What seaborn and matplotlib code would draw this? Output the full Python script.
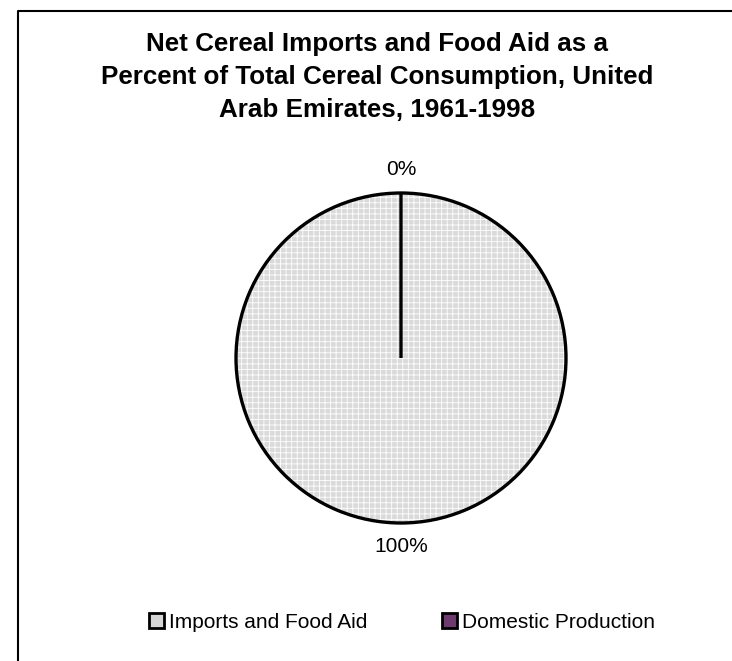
import numpy as np
import pandas as pd
import seaborn as sns
import matplotlib.pyplot as plt
from matplotlib.patches import Patch
from matplotlib.lines import Line2D

sns.set_theme(style="white")
plt.rcParams['font.family'] = ['Liberation Sans', 'DejaVu Sans']
plt.rcParams['text.color'] = 'black'
plt.rcParams['hatch.linewidth'] = 0.6

# data
categories = ['Imports and Food Aid', 'Domestic Production']
shares = [100, 0]
pct_labels = ['100%', '0%']
colors = ['#dadada', '#6e3b6f']

W, H = 732, 661
fig = plt.figure(figsize=(W / 100, H / 100), dpi=100)
fig.patch.set_facecolor('white')

# pie axis: center (401, 358), radius 165 px
r = 165
lim = 1.5
cx, cy = 401, 358
side = 2 * lim * r
ax = fig.add_axes([(cx - side / 2) / W, (H - cy - side / 2) / H, side / W, side / H])

# hatched fill
ax.pie(shares, colors=colors, startangle=90, counterclock=False,
       wedgeprops=dict(linewidth=0, edgecolor='white', hatch='+++'))
# outlines and labels
wedges, texts = ax.pie(shares, labels=pct_labels, labeldistance=1.14, startangle=90,
                       counterclock=False, colors=['none', 'none'],
                       wedgeprops=dict(linewidth=2.4, edgecolor='black', fill=False),
                       textprops=dict(fontsize=15, color='black'))
for t in texts:
    t.set_horizontalalignment('center')
ax.set_xlim(-lim, lim)
ax.set_ylim(-lim, lim)
ax.set_aspect('equal')
ax.axis('off')

# title
fig.text(377 / W, 1 - 77 / H,
         'Net Cereal Imports and Food Aid as a\nPercent of Total Cereal Consumption, United\nArab Emirates, 1961-1998',
         ha='center', va='center', fontsize=18.75, fontweight='bold', linespacing=1.45,
         color='black')

# legend
handles = [Patch(facecolor='#d6d6d6', edgecolor='black', linewidth=2),
           Patch(facecolor=colors[1], edgecolor='black', linewidth=2)]
leg = fig.legend(handles, categories, loc='center', bbox_to_anchor=(402 / W, 1 - 622 / H),
                 ncol=2, frameon=False, fontsize=15, handlelength=0.72, handleheight=0.72,
                 handletextpad=0.25, columnspacing=3.6)
for t in leg.get_texts():
    t.set_color('black')

# chart border (left and top visible)
fig.add_artist(Line2D([18 / W, 18 / W, 1.0], [0.0, 1 - 11 / H, 1 - 11 / H],
                      transform=fig.transFigure, color='black', linewidth=1.5))

fig.savefig('out.png', dpi=100)
